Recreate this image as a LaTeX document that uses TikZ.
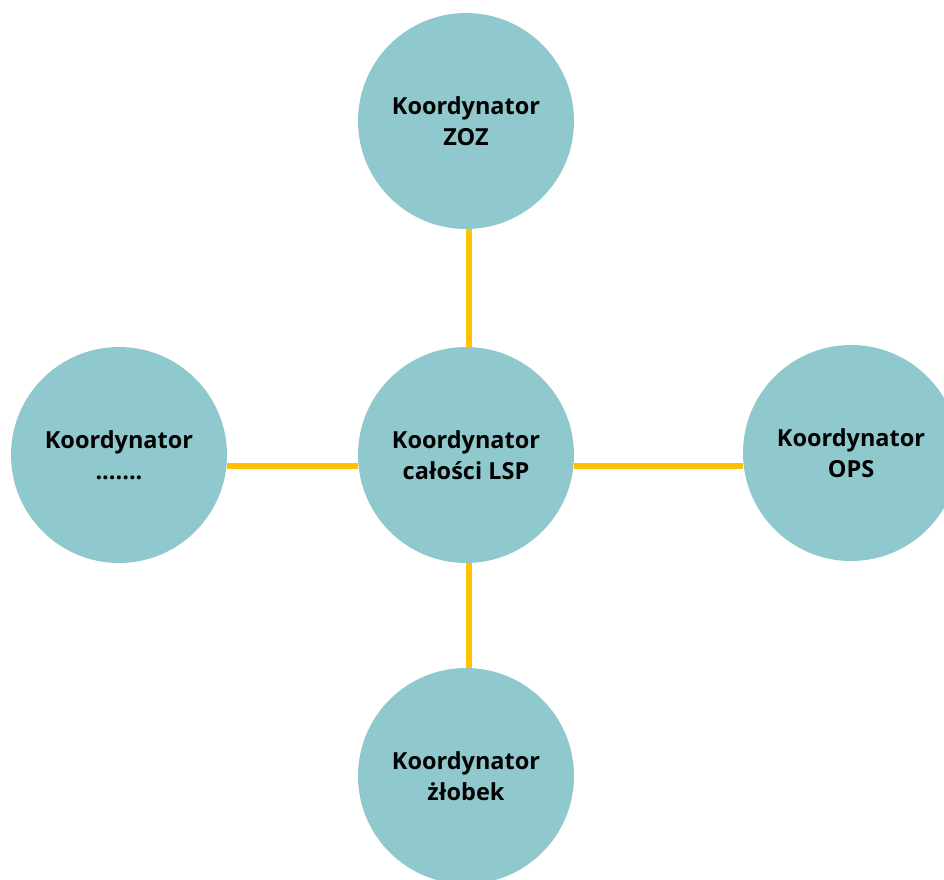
\documentclass[tikz,border=0pt]{standalone}
\usepackage{fontspec}
\setmainfont{Open Sans}
\usepackage{tikz}
\usetikzlibrary{shapes.geometric, arrows}
\definecolor{teal1}{HTML}{90C9CD}
\definecolor{gold1}{HTML}{FFC000}
\tikzstyle{coordinator} = [circle, minimum size=216pt, inner sep=0pt, text centered, align=center, fill=teal1, font=\bfseries\fontsize{23.5}{31}\selectfont]
\tikzstyle{link} = [line width=5.5pt, draw=gold1]
\begin{document}
\begin{tikzpicture}[node distance=334pt]

\clip (-466pt,455pt) rectangle (478pt,-424pt);

\node (lsp) [coordinator] {Koordynator\\całości LSP};
\node (zoz) [coordinator, above of=lsp] {Koordynator\\ZOZ};
\node (zlobek) [coordinator, below of=lsp, yshift=13pt] {Koordynator\\żłobek};
\node (other) [coordinator, left of=lsp, xshift=-13pt] {Koordynator\\.......};
\node (ops) [coordinator, right of=lsp, xshift=51pt, yshift=2pt] {Koordynator\\OPS};

\coordinate (vl) at ([xshift=3pt]lsp.center);
\coordinate (hl) at ([yshift=-11pt]lsp.center);

\draw [link] (vl |- lsp.north) -- (vl |- zoz.south);
\draw [link] (vl |- lsp.south) -- (vl |- zlobek.north);
\draw [link] (lsp.west |- hl) -- (other.east |- hl);
\draw [link] (lsp.east |- hl) -- (ops.west |- hl);

\end{tikzpicture}
\end{document}
